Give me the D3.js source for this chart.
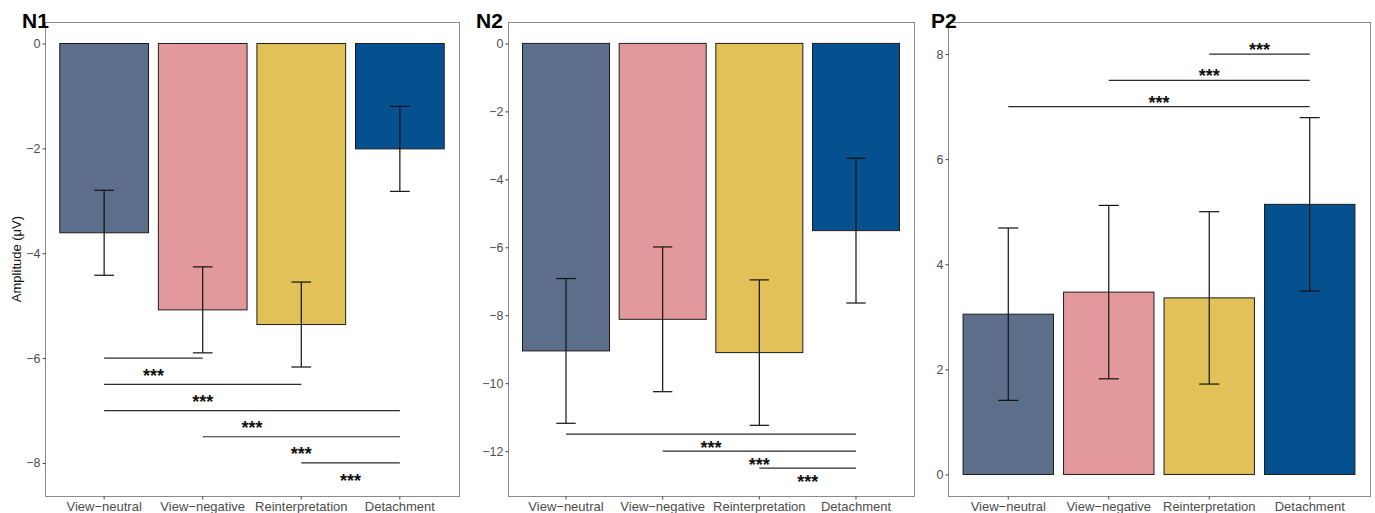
<!DOCTYPE html>
<html>
<head>
<meta charset="utf-8">
<script src="https://cdn.jsdelivr.net/npm/d3@7"></script>
<style>
  body { margin: 0; background: #fff; }
  svg { display: block; font-family: "Liberation Sans", Arial, sans-serif; }
</style>
</head>
<body>
<svg id="chart" width="1375" height="513"></svg>
<script>
// ---- data ----
const categories = ["View\u2212neutral", "View\u2212negative", "Reinterpretation", "Detachment"];
const barColors = ["#5c6e8a", "#e3999b", "#e2c158", "#05508f"];

const panelNames = ["N1", "N2", "P2"];

const n1Mean = [-3.61, -5.08, -5.36, -2.01];
const n1Err  = [0.81, 0.82, 0.81, 0.81];
const n2Mean = [-9.05, -8.12, -9.10, -5.51];
const n2Err  = [2.13, 2.13, 2.14, 2.13];
const p2Mean = [3.05, 3.47, 3.36, 5.14];
const p2Err  = [1.64, 1.65, 1.64, 1.65];

const n1Ticks = [0, -2, -4, -6, -8];
const n2Ticks = [0, -2, -4, -6, -8, -10, -12];
const p2Ticks = [0, 2, 4, 6, 8];

const n1Limits = [-8.63, 0.41];
const n2Limits = [-13.32, 0.63];
const p2Limits = [-0.41, 8.61];

// significance brackets: [from index, to index, line y, label y]
const n1Sig = [[0, 1, -6.0, -6.26], [0, 2, -6.5, -6.76], [0, 3, -7.0, -7.26], [1, 3, -7.5, -7.76], [2, 3, -8.0, -8.26]];
const n2Sig = [[0, 3, -11.5, -11.8], [1, 3, -12.0, -12.3], [2, 3, -12.5, -12.8]];
const p2Sig = [[0, 3, 7.0, 7.15], [1, 3, 7.5, 7.65], [2, 3, 8.0, 8.15]];
const sigLabel = "***";

const yTitle = "Amplitude (\u03bcV)";

// ---- layout ----
const svg = d3.select("#chart");
const FONT = '"Liberation Sans", Arial, sans-serif';
const panels = [
  { name: panelNames[0], mean: n1Mean, err: n1Err, ticks: n1Ticks, limits: n1Limits, sig: n1Sig,
    left: 45, right: 459, titleX: 22 },
  { name: panelNames[1], mean: n2Mean, err: n2Err, ticks: n2Ticks, limits: n2Limits, sig: n2Sig,
    left: 508, right: 914, titleX: 476 },
  { name: panelNames[2], mean: p2Mean, err: p2Err, ticks: p2Ticks, limits: p2Limits, sig: p2Sig,
    left: 948, right: 1370, titleX: 931 }
];
const plotTop = 22, plotBottom = 496;

panels.forEach((p, pi) => {
  const x = d3.scaleBand().domain(categories).range([p.left, p.right])
    .paddingInner(0.1).paddingOuter(0.15);
  const y = d3.scaleLinear().domain(p.limits).range([plotBottom, plotTop]);
  const g = svg.append("g");

  const bw = x.bandwidth();
  const capW = bw * 0.2 / 0.9;

  // bars
  g.selectAll("rect.bar").data(p.mean).enter().append("rect")
    .attr("class", "bar")
    .attr("x", (d, i) => x(categories[i]))
    .attr("width", bw)
    .attr("y", d => Math.min(y(d), y(0)))
    .attr("height", d => Math.abs(y(d) - y(0)))
    .attr("fill", (d, i) => barColors[i])
    .attr("stroke", "#1e1e1e")
    .attr("stroke-width", 1);

  // error bars
  const eb = g.selectAll("g.eb").data(p.mean).enter().append("g").attr("class", "eb");
  eb.append("line")
    .attr("x1", (d, i) => x(categories[i]) + bw / 2)
    .attr("x2", (d, i) => x(categories[i]) + bw / 2)
    .attr("y1", (d, i) => y(d + p.err[i]))
    .attr("y2", (d, i) => y(d - p.err[i]))
    .attr("stroke", "#111").attr("stroke-width", 1.2);
  [1, -1].forEach(s => {
    eb.append("line")
      .attr("x1", (d, i) => x(categories[i]) + bw / 2 - capW / 2)
      .attr("x2", (d, i) => x(categories[i]) + bw / 2 + capW / 2)
      .attr("y1", (d, i) => y(d + s * p.err[i]))
      .attr("y2", (d, i) => y(d + s * p.err[i]))
      .attr("stroke", "#111").attr("stroke-width", 1.2);
  });

  // significance lines
  g.selectAll("line.sig").data(p.sig).enter().append("line")
    .attr("class", "sig")
    .attr("x1", d => x(categories[d[0]]) + bw / 2)
    .attr("x2", d => x(categories[d[1]]) + bw / 2)
    .attr("y1", d => y(d[2])).attr("y2", d => y(d[2]))
    .attr("stroke", "#2a2a2a").attr("stroke-width", 1.2);
  g.selectAll("text.sig").data(p.sig).enter().append("text")
    .attr("class", "sig")
    .attr("x", d => (x(categories[d[0]]) + x(categories[d[1]])) / 2 + bw / 2)
    .attr("y", d => y(d[3]) + 10)
    .attr("text-anchor", "middle")
    .attr("font-size", 18)
    .attr("font-weight", "bold")
    .attr("fill", "#111")
    .text(sigLabel);

  // panel border
  g.append("rect")
    .attr("x", p.left + 0.5).attr("y", plotTop + 0.5)
    .attr("width", p.right - p.left).attr("height", plotBottom - plotTop)
    .attr("fill", "none").attr("stroke", "#8a8a8a").attr("stroke-width", 1);

  // axes
  const ya = g.append("g").attr("transform", `translate(${p.left + 0.5},0)`)
    .call(d3.axisLeft(y).tickValues(p.ticks).tickSize(3).tickPadding(2))
    .attr("font-family", FONT).attr("font-size", 12.5);
  ya.select(".domain").remove();
  ya.selectAll("text").attr("fill", "#4d4d4d");
  ya.selectAll("line").attr("stroke", "#444");

  const xa = g.append("g").attr("transform", `translate(0,${plotBottom + 0.5})`)
    .call(d3.axisBottom(x).tickSize(3).tickPadding(2))
    .attr("font-family", FONT).attr("font-size", 13);
  xa.select(".domain").remove();
  xa.selectAll("text").attr("fill", "#4d4d4d");
  xa.selectAll("line").attr("stroke", "#444");

  // panel title
  svg.append("text")
    .attr("x", p.titleX).attr("y", 28)
    .attr("font-size", 21).attr("font-weight", "bold").attr("fill", "#000")
    .text(p.name);

  if (pi === 0) {
    svg.append("text")
      .attr("transform", `translate(21,${(plotTop + plotBottom) / 2}) rotate(-90)`)
      .attr("text-anchor", "middle")
      .attr("font-size", 13).attr("fill", "#111")
      .text(yTitle);
  }
});
</script>
</body>
</html>
